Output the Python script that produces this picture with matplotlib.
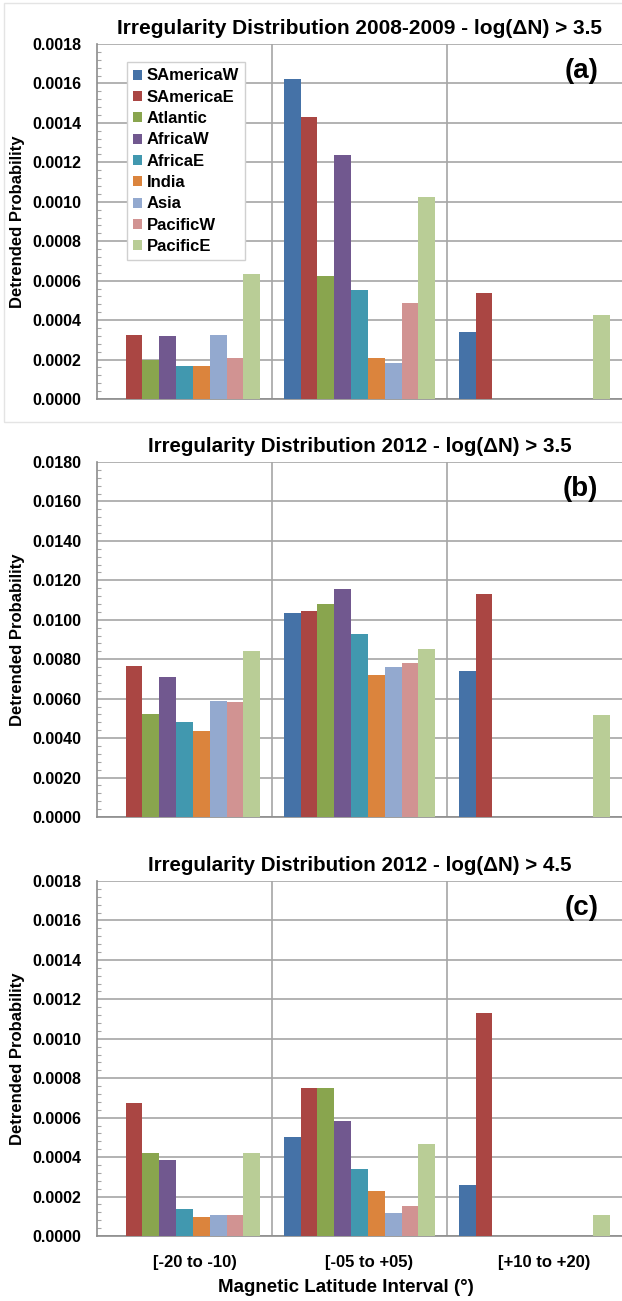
import matplotlib
matplotlib.use("Agg")
import matplotlib.pyplot as plt
import matplotlib.patches as mpatches
import matplotlib.transforms as mtransforms
from matplotlib.ticker import MultipleLocator, FormatStrFormatter
import numpy as np

plt.rcParams['font.family'] = ['Liberation Sans', 'DejaVu Sans']
plt.rcParams['font.weight'] = 'bold'

categories = ['[-20 to -10)', '[-05 to +05)', '[+10 to +20)']
regions = ['SAmericaW', 'SAmericaE', 'Atlantic', 'AfricaW', 'AfricaE',
           'India', 'Asia', 'PacificW', 'PacificE']
colors = ['#4572A7', '#AA4643', '#89A54E', '#71588F', '#4198AF',
          '#DB843D', '#93A9CF', '#D19392', '#B9CD96']

# values[region] = [cat1, cat2, cat3]
vals_a = {
    'SAmericaW': [0.0, 0.001623, 0.000341],
    'SAmericaE': [0.000323, 0.001432, 0.000539],
    'Atlantic':  [0.000199, 0.000625, 0.0],
    'AfricaW':   [0.000317, 0.001238, 0.0],
    'AfricaE':   [0.000167, 0.000554, 0.0],
    'India':     [0.000167, 0.000209, 0.0],
    'Asia':      [0.000323, 0.000184, 0.0],
    'PacificW':  [0.000206, 0.000486, 0.0],
    'PacificE':  [0.000635, 0.001023, 0.000426],
}
vals_b = {
    'SAmericaW': [0.0, 0.01032, 0.00738],
    'SAmericaE': [0.00768, 0.01042, 0.01133],
    'Atlantic':  [0.00524, 0.01078, 0.0],
    'AfricaW':   [0.00712, 0.01154, 0.0],
    'AfricaE':   [0.00484, 0.00930, 0.0],
    'India':     [0.00438, 0.00722, 0.0],
    'Asia':      [0.00590, 0.00763, 0.0],
    'PacificW':  [0.00585, 0.00783, 0.0],
    'PacificE':  [0.00844, 0.00854, 0.00519],
}
vals_c = {
    'SAmericaW': [0.0, 0.000504, 0.000261],
    'SAmericaE': [0.000672, 0.000748, 0.001133],
    'Atlantic':  [0.000423, 0.000748, 0.0],
    'AfricaW':   [0.000387, 0.000585, 0.0],
    'AfricaE':   [0.000139, 0.000342, 0.0],
    'India':     [0.000098, 0.000230, 0.0],
    'Asia':      [0.000108, 0.000118, 0.0],
    'PacificW':  [0.000108, 0.000154, 0.0],
    'PacificE':  [0.000423, 0.000464, 0.000108],
}

titles = ['Irregularity Distribution 2008-2009 - log(\u0394N) > 3.5',
          'Irregularity Distribution 2012 - log(\u0394N) > 3.5',
          'Irregularity Distribution 2012 - log(\u0394N) > 4.5']
panel_labels = ['(a)', '(b)', '(c)']
ymaxes = [0.0018, 0.018, 0.0018]
ysteps = [0.0002, 0.002, 0.0002]
ylabel = 'Detrended Probability'
xlabel = 'Magnetic Latitude Interval (\u00b0)'

W, H = 622, 1301
fig = plt.figure(figsize=(W / 100, H / 100), dpi=100)

# light frame around panel (a)
fig.patches.append(mpatches.Rectangle((4 / W, 1 - 422 / H), (W + 2) / W, (422 - 3) / H,
                                      transform=fig.transFigure, fill=False,
                                      edgecolor='#E4E4E4', linewidth=1.0))

ax_tops = [44, 462, 881]
ax_h = 355
left, right = 97, 622

x = np.arange(len(categories))
w = 0.0962
for k, (vals, top) in enumerate(zip([vals_a, vals_b, vals_c], ax_tops)):
    ax = fig.add_axes([left / W, 1 - (top + ax_h) / H, (right - left) / W, ax_h / H])
    for i, r in enumerate(regions):
        ax.bar(x + (i - 4) * w, vals[r], width=w, color=colors[i], label=r,
               linewidth=0, zorder=3)
    ax.set_xlim(-0.5, len(categories) - 0.5)
    ax.set_ylim(0, ymaxes[k])
    ax.yaxis.set_major_locator(MultipleLocator(ysteps[k]))
    ax.yaxis.set_minor_locator(MultipleLocator(ysteps[k] / 5))
    ax.yaxis.set_major_formatter(FormatStrFormatter('%.4f'))
    ax.set_xticks(x)
    ax.set_xticks(x[:-1] + 0.5, minor=True)
    ax.grid(axis='y', which='major', color='#A6A6A6', linewidth=1.2, zorder=0)
    ax.grid(axis='x', which='minor', color='#A6A6A6', linewidth=1.2, zorder=0)
    ax.tick_params(axis='y', which='major', length=0, labelsize=11.5, pad=11.5)
    ax.tick_params(axis='y', which='minor', direction='in', length=3,
                   color='#A6A6A6', width=0.8)
    ax.tick_params(axis='x', which='both', length=0)
    for lab in ax.get_yticklabels():
        lab.set_fontweight('bold')
    for s in ['top', 'right']:
        ax.spines[s].set_visible(False)
    ax.spines['left'].set_color('#8C8C8C')
    ax.spines['bottom'].set_color('#8C8C8C')
    ax.spines['left'].set_linewidth(1.2)
    ax.spines['bottom'].set_linewidth(1.2)
    ax.set_ylabel(ylabel, fontsize=12, fontweight='bold', labelpad=5)
    ax.set_title(titles[k], fontsize=(15 if k == 0 else 14.8), fontweight='bold', pad=7)
    ax.text(0.955, 0.925, panel_labels[k], transform=ax.transAxes, ha='right', va='center',
            fontsize=20, fontweight='bold')
    if k == 2:
        ax.set_xticklabels(categories, fontsize=12, fontweight='bold')
        ax.tick_params(axis='x', pad=14)
        shift = mtransforms.ScaledTranslation(10 / 100, 0, fig.dpi_scale_trans)
        for lab in ax.get_xticklabels():
            lab.set_transform(lab.get_transform() + shift)
        ax.set_xlabel(xlabel, fontsize=13.5, fontweight='bold')
        ax.xaxis.set_label_coords(0.474, -0.12)
    else:
        ax.set_xticklabels([])
    if k == 0:
        ax.legend(loc='upper left', bbox_to_anchor=(0.057, 0.949), borderaxespad=0,
                  prop={'weight': 'bold', 'size': 12}, frameon=True,
                  fancybox=False, edgecolor='#D0D0D0', framealpha=1,
                  handlelength=0.55, handleheight=0.55, handletextpad=0.25,
                  labelspacing=0.38, borderpad=0.38)

fig.savefig('out.png', dpi=100)
